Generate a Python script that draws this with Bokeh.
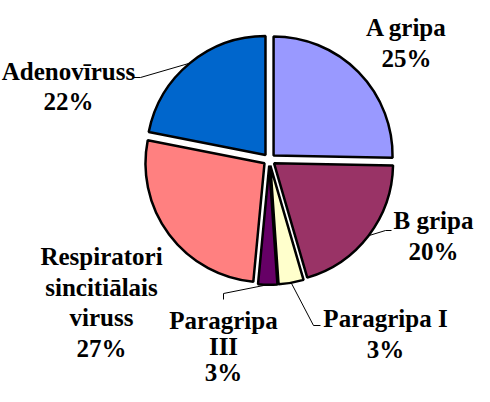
import math
from bokeh.plotting import figure
from bokeh.models import Range1d, ColumnDataSource
from bokeh.core.properties import value
from bokeh.embed import file_html
from bokeh.resources import INLINE

# ---- data ----
categories = ["A gripa", "B gripa", "Paragripa I", "Paragripa\nIII",
              "Respiratori\nsincitiālais\nviruss", "Adenovīruss"]
shares = [25.3, 20.2, 3.4, 2.6, 26.6, 21.9]
colors = ["#9999FF", "#993366", "#FFFFCC", "#660066", "#FF8080", "#0066CC"]

# ---- layout (picture pixel coordinates; data y = H - pixel y) ----
FW, FH = 474, 386
H = 402
def Y(py):
    return H - py

cx, cy = 268.8, Y(159.2)
R = 119.0
EXPLODE = 6.0
START = 90.0

# label anchor: (center x, first baseline pixel y, line step)
label_pos = [(406, 27, 30.5), (433, 220, 30.5), (385, 318, 30.5),
             (223, 320, 26.0), (101, 256, 30.5), (68, 71, 30.0)]
# leader knee / end points (pixel), None = no leader
leaders = [None, [(385, 230), (391, 230)], [(313, 325), (320, 325)],
           [(223, 293), (223, 299)], None, [(140, 77), (132, 77)]]

total = sum(shares)
starts, ends, xs, ys, mids = [], [], [], [], []
acc = 0.0
for v in shares:
    a0 = START - acc / total * 360.0
    a1 = a0 - v / total * 360.0
    mid = math.radians((a0 + a1) / 2)
    starts.append(math.radians(a0))
    ends.append(math.radians(a1))
    xs.append(cx + EXPLODE * math.cos(mid))
    ys.append(cy + EXPLODE * math.sin(mid))
    mids.append(mid)
    acc += v

p = figure(width=FW, height=FH, output_backend="svg", toolbar_location=None,
           x_range=Range1d(0, FW), y_range=Range1d(Y(FH), Y(0)),
           min_border=0)
p.axis.visible = False
p.grid.visible = False
p.outline_line_color = None
p.background_fill_color = "white"

src = ColumnDataSource(dict(x=xs, y=ys, s=starts, e=ends, c=colors))
p.wedge(x="x", y="y", radius=R, start_angle="s", end_angle="e",
        direction="clock", fill_color="c", line_color="black", line_width=2.5,
        source=src)

# leader lines
lx, ly = [], []
for i, ld in enumerate(leaders):
    if ld is None:
        continue
    sx = xs[i] + R * math.cos(mids[i])
    sy = ys[i] + R * math.sin(mids[i])
    lx.append([sx] + [q[0] for q in ld])
    ly.append([sy] + [Y(q[1]) for q in ld])
p.multi_line(xs=lx, ys=ly, line_color="black", line_width=1)

# labels
tx, ty, tt = [], [], []
for i, name in enumerate(categories):
    lines = name.split("\n") + [f"{round(shares[i])}%"]
    x0, b0, step = label_pos[i]
    for k, t in enumerate(lines):
        tx.append(x0)
        ty.append(Y(b0 + k * step))
        tt.append(t)
p.text(x=tx, y=ty, text=tt, text_font=value("Liberation Serif"),
       text_font_style="bold", text_font_size="25px", text_align="center",
       text_baseline="alphabetic", text_color="black")

open("out.html", "w").write(file_html(p, INLINE))
